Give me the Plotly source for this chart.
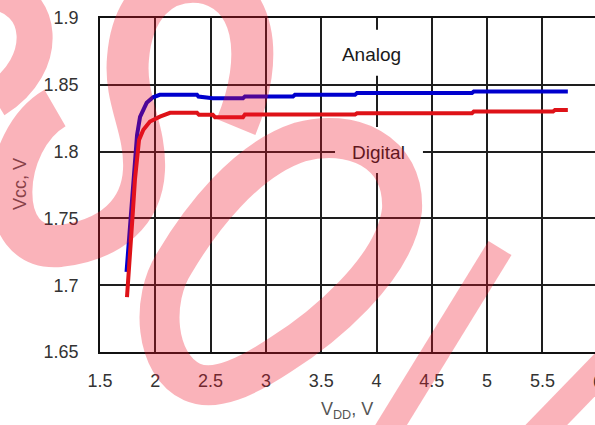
import plotly.graph_objects as go

# ---- data ----
analog_x = [1.74, 1.758, 1.78, 1.807, 1.821, 1.835, 1.862, 1.922, 1.979, 2.04, 2.377, 2.39, 2.52, 2.793, 2.81,
            3.245, 3.263, 3.806, 3.824, 4.863, 4.88, 5.73]
analog_y = [1.710, 1.730, 1.750, 1.786, 1.800, 1.8125, 1.826, 1.8365, 1.8406, 1.8425, 1.8425, 1.8412, 1.840,
            1.840, 1.8412, 1.8412, 1.8425, 1.8425, 1.8438, 1.8438, 1.845, 1.845]

digital_x = [1.744, 1.758, 1.78, 1.798, 1.816, 1.835, 1.853, 1.892, 1.952, 2.042, 2.133, 2.377, 2.395, 2.52,
             2.54, 2.793, 2.81, 3.806, 3.824, 4.863, 4.88, 5.596, 5.614, 5.73]
digital_y = [1.691, 1.711, 1.734, 1.756, 1.779, 1.7975, 1.8088, 1.8163, 1.8225, 1.8262, 1.829, 1.829, 1.8275,
             1.8275, 1.8258, 1.8258, 1.8278, 1.8278, 1.8287, 1.8287, 1.830, 1.830, 1.8312, 1.8312]

x_ticks = [1.5, 2, 2.5, 3, 3.5, 4, 4.5, 5, 5.5, 6]
y_ticks = [1.65, 1.7, 1.75, 1.8, 1.85, 1.9]

labels = ["Analog", "Digital"]
label_x = [3.955, 4.018]
label_y = [1.871, 1.798]

# ---- geometry of the page ----
W, H = 595, 425
ML, MR, MT, MB = 100, 0, 18, 73
PW, PH = W - ML - MR, H - MT - MB
X_RANGE = [1.5, 1.5 + PW / 110.6]
Y_RANGE = [1.65, 1.9]

FONT = "Liberation Sans, Arial, sans-serif"

fig = go.Figure()
fig.add_trace(go.Scatter(x=analog_x, y=analog_y, mode="lines", name="Analog",
                         line=dict(color="rgb(0,0,205)", width=4), showlegend=False))
fig.add_trace(go.Scatter(x=digital_x, y=digital_y, mode="lines", name="Digital",
                         line=dict(color="rgb(222,18,24)", width=4), showlegend=False))
fig.add_trace(go.Scatter(x=label_x, y=label_y, mode="text", text=labels, textposition="middle center",
                         textfont=dict(family=FONT, size=19, color="#1a1a1a"), showlegend=False,
                         hoverinfo="skip", cliponaxis=False))

# white boxes behind the in-plot labels (they interrupt the grid)
for (x0, x1, y0, y1) in [(3.652, 4.267, 1.8567, 1.8912), (3.625, 4.42, 1.784, 1.8185)]:
    fig.add_shape(type="rect", xref="x", yref="y", x0=x0, x1=x1, y0=y0, y1=y1,
                  fillcolor="white", line=dict(width=0), layer="between")


# ---- watermark strokes (page pixels -> paper coords) ----
def to_paper(px, py):
    return (px - ML) / PW, (H - MB - py) / PH


def path(segs):
    out = []
    for cmd, pts in segs:
        if cmd == "Z":
            out.append("Z")
            continue
        s = " ".join("%.4f,%.4f" % to_paper(*p) for p in pts)
        out.append(cmd + " " + s)
    return " ".join(out)


strokes = [
    ([("M", [(-10, -8)]), ("C", [(45, -5), (52, 65), (-5, 100)])], 36),
    ([("M", [(55, 108)]), ("C", [(0, 140), (-8, 252), (60, 246)]),
      ("C", [(112, 240), (142, 212), (144, 170)]),
      ("C", [(146, 128), (124, 100), (128, 58)]),
      ("C", [(132, 8), (160, -22), (200, -18)]),
      ("C", [(255, -10), (266, 55), (236, 127)])], 42),
    ([("M", [(402, 210)]), ("C", [(395, 270), (320, 330), (280, 355)]),
      ("C", [(245, 378), (215, 392), (192, 382)]),
      ("C", [(155, 365), (150, 300), (175, 262)]),
      ("C", [(200, 220), (245, 160), (300, 142)]),
      ("C", [(350, 128), (405, 150), (402, 210)]), ("Z", [])], 40),
    ([("M", [(500, 248)]), ("L", [(380, 443)])], 27),
    ([("M", [(650, 318)]), ("L", [(525, 447)])], 30),
]
for segs, w in strokes:
    fig.add_shape(type="path", xref="paper", yref="paper", path=path(segs),
                  line=dict(color="rgba(240,20,40,0.32)", width=w), layer="above")

# axis titles and the clipped "6" tick label
tx6, _ = to_paper(ML + 4.5 * 110.6, 0)
fig.add_annotation(xref="paper", yref="paper", x=tx6, y=to_paper(0, 381.5)[1], text="6",
                   showarrow=False, font=dict(family=FONT, size=18, color="#333"),
                   xanchor="center", yanchor="middle")
fig.add_annotation(xref="paper", yref="paper", x=to_paper(347, 0)[0], y=to_paper(0, 410)[1],
                   text="V<sub>DD</sub>, V", showarrow=False,
                   font=dict(family=FONT, size=18, color="#555"), xanchor="center", yanchor="middle")
fig.add_annotation(xref="paper", yref="paper", x=to_paper(20, 0)[0], y=to_paper(0, 184)[1],
                   text="Vcc, V", showarrow=False, textangle=-90,
                   font=dict(family=FONT, size=18, color="rgb(135,64,71)"), xanchor="center", yanchor="middle")

fig.update_xaxes(range=X_RANGE, tickvals=x_ticks[:-1], ticktext=[("%g" % v) for v in x_ticks[:-1]],
                 showgrid=True, gridcolor="#1e1e1e", gridwidth=1.5, zeroline=False,
                 showline=True, linecolor="#111", linewidth=1.5, mirror=True, ticks="",
                 ticklabelstandoff=12, tickfont=dict(family=FONT, size=18, color="#333"))
fig.update_yaxes(range=Y_RANGE, tickvals=y_ticks, ticktext=[("%g" % v) for v in y_ticks],
                 showgrid=True, gridcolor="#1e1e1e", gridwidth=1.5, zeroline=False,
                 showline=True, linecolor="#111", linewidth=1.5, ticks="",
                 ticklabelstandoff=16, tickfont=dict(family=FONT, size=18, color="#333"))
fig.update_layout(width=W, height=H, margin=dict(l=ML, r=MR, t=MT, b=MB, autoexpand=False),
                  paper_bgcolor="white", plot_bgcolor="white", showlegend=False)
fig.write_html("out.html", config={"displayModeBar": False},
               post_script="document.body.style.margin='0px';")
